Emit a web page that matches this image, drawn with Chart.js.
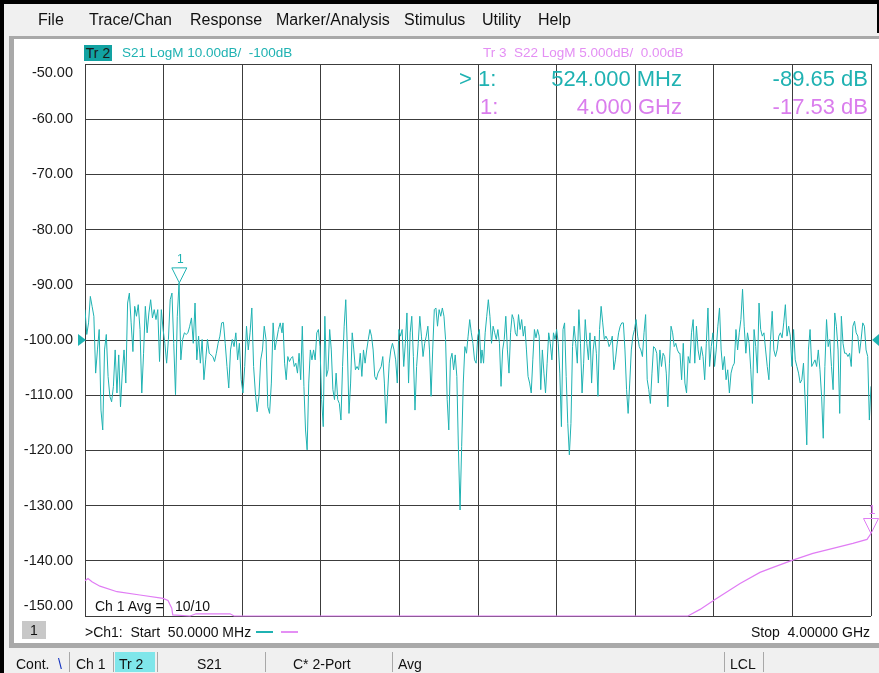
<!DOCTYPE html>
<html>
<head>
<meta charset="utf-8">
<title>S21 / S22 LogM</title>
<script src="https://cdn.jsdelivr.net/npm/chart.js@4.4.1/dist/chart.umd.min.js"></script>
<style>
  html, body { margin: 0; padding: 0; }
  body {
    width: 879px; height: 673px; position: relative; overflow: hidden;
    background: #000; font-family: "Liberation Sans", Arial, sans-serif; color: #111;
  }
  #menu { position: absolute; left: 4px; top: 4px; width: 873px; height: 29px; background: #f0f0f0; }
  #under { position: absolute; left: 4px; top: 33px; width: 875px; height: 640px; background: #f0f0f0; }
  #frame { position: absolute; left: 9px; top: 36px; width: 870px; height: 612px; background: #a9a9a9; }
  #panel { position: absolute; left: 14px; top: 39px; width: 865px; height: 604px; background: #fff; }
  #vnaChart { position: absolute; left: 0; top: 0; }
  .t { position: absolute; white-space: nowrap; line-height: 1; }
  .menu { font-size: 16px; top: 12px; }
  .hdr { font-size: 13.5px; top: 46px; }
  .big { font-size: 22px; }
  .cyan { color: #1fb2b2; }
  .mag { color: #da7ded; }
  .magl { color: #e48ff4; }
  .sb { font-size: 14px; top: 657px; }
  .sep { position: absolute; top: 652px; width: 1px; height: 20px; background: #a8a8a8; }
</style>
</head>
<body>
<div id="menu"></div>
<div id="under"></div>
<div id="frame"></div>
<div id="panel"></div>
<canvas id="vnaChart" width="879" height="673"></canvas>

<!-- menu -->
<div class="t menu" style="left:38px">File</div>
<div class="t menu" style="left:89px">Trace/Chan</div>
<div class="t menu" style="left:190px">Response</div>
<div class="t menu" style="left:276px">Marker/Analysis</div>
<div class="t menu" style="left:404px">Stimulus</div>
<div class="t menu" style="left:482px">Utility</div>
<div class="t menu" style="left:538px">Help</div>

<!-- trace headers -->
<div class="t" style="left:84px;top:45px;width:28px;height:16px;background:#12a2a2;font-size:14px;line-height:16px;text-align:center;color:#1a1a1a">Tr 2</div>
<div class="t hdr cyan" style="left:122px">S21 LogM 10.00dB/&nbsp; -100dB</div>
<div class="t hdr magl" style="left:483px">Tr 3&nbsp;&nbsp;S22 LogM 5.000dB/&nbsp; 0.00dB</div>

<!-- marker readouts -->
<div class="t big cyan" style="left:459px;top:68px">&gt;</div>
<div class="t big cyan" style="left:478px;top:68px">1:</div>
<div class="t big cyan" style="right:197px;top:68px">524.000 MHz</div>
<div class="t big cyan" style="right:11px;top:68px">-89.65 dB</div>
<div class="t big mag" style="left:480px;top:96px">1:</div>
<div class="t big mag" style="right:197px;top:96px">4.000 GHz</div>
<div class="t big mag" style="right:11px;top:96px">-17.53 dB</div>

<!-- bottom of plot -->
<div class="t" style="left:95px;top:599px;font-size:14px">Ch 1 Avg =</div>
<div class="t" style="left:175px;top:599px;font-size:14px">10/10</div>
<div class="t" style="left:22px;top:621px;width:24px;height:18px;background:#c8c8c8;font-size:14px;line-height:18px;text-align:center">1</div>
<div class="t" style="left:85px;top:625px;font-size:14px">&gt;Ch1:&nbsp; Start&nbsp; 50.0000 MHz</div>
<div class="t" style="left:256px;top:631px;width:17px;height:2px;background:#1fb2b2"></div>
<div class="t" style="left:281px;top:631px;width:17px;height:2px;background:#e48ff4"></div>
<div class="t" style="right:9px;top:625px;font-size:14px">Stop&nbsp; 4.00000 GHz</div>

<!-- status bar -->
<div class="t sb" style="left:16px">Cont.</div>
<div class="t sb" style="left:58px;color:#1030c0">\</div>
<div class="sep" style="left:69px"></div>
<div class="t sb" style="left:76px">Ch 1</div>
<div class="sep" style="left:113px"></div>
<div class="t" style="left:115px;top:652px;width:40px;height:20px;background:#7fe6ea"></div>
<div class="t sb" style="left:119px">Tr 2</div>
<div class="sep" style="left:157px"></div>
<div class="t sb" style="left:197px">S21</div>
<div class="sep" style="left:265px"></div>
<div class="t sb" style="left:293px">C* 2-Port</div>
<div class="sep" style="left:392px"></div>
<div class="t sb" style="left:398px">Avg</div>
<div class="sep" style="left:724px"></div>
<div class="t sb" style="left:730px">LCL</div>
<div class="sep" style="left:763px"></div>

<script>
// VNA screen: S21 (Tr 2) and S22 (Tr 3), Ch 1, 50 MHz .. 4 GHz

// ==========================================
// Data
// ==========================================
const startMHz = 50;
const stopMHz = 4000;
const xGridMHz = [50, 445, 840, 1235, 1630, 2025, 2420, 2815, 3210, 3605, 4000];
const yTicksDb = [-50, -60, -70, -80, -90, -100, -110, -120, -130, -140, -150];

// S21 in four stretches (MHz range of each)
const s21Bands = [[50, 1040], [1045, 2040], [2045, 3035], [3040, 4000]];
const s21Band1 = [-94.5, -99.0, -96.9, -92.1, -93.9, -95.7, -106.0, -101.8, -98.1, -112.7,
  -116.3, -101.8, -99.0, -106.6, -110.2, -111.2, -108.4, -101.8, -109.6, -102.7,
  -112.1, -106.0, -101.8, -107.8, -93.3, -91.5, -96.9, -102.1, -93.9, -95.7,
  -93.6, -98.1, -109.6, -102.4, -93.9, -98.7, -95.1, -92.7, -96.0, -94.5,
  -96.3, -94.5, -103.9, -94.5, -98.1, -100.6, -104.2, -99.9, -92.7, -91.5,
  -100.6, -109.9, -95.7, -89.65, -103.6, -99.9, -98.7, -99.0, -98.7, -97.5,
  -96.0, -100.6, -93.3, -103.6, -99.3, -104.2, -99.9, -107.2, -103.6, -99.9,
  -102.4, -102.7, -103.0, -103.9, -102.4, -100.6, -99.3, -96.9, -96.8, -100.6,
  -104.8, -108.7, -101.8, -99.9, -101.2, -98.7, -103.6, -100.6, -107.2, -109.6,
  -104.8, -97.5, -101.8, -98.7, -94.2, -104.8, -109.6, -113.0, -110.2, -103.6,
  -101.8, -97.5, -99.9, -112.1, -113.3, -107.8, -96.9, -101.8, -99.9, -98.1,
  -96.9, -98.7];
const s21Band2 = [-96.9, -104.2, -107.2, -103.0, -103.9, -103.3, -103.0, -104.8, -104.2, -106.0,
  -102.4, -107.2, -97.5, -108.4, -116.3, -119.9, -107.8, -101.8, -103.6, -101.8,
  -103.6, -98.7, -98.1, -101.2, -110.8, -115.7, -95.7, -106.6, -105.4, -98.1,
  -101.8, -109.0, -110.8, -106.0, -110.8, -111.5, -114.5, -104.8, -97.5, -92.7,
  -101.8, -113.3, -107.8, -98.7, -101.8, -105.4, -104.8, -105.4, -102.4, -106.6,
  -101.8, -104.2, -101.8, -99.9, -98.1, -99.3, -101.8, -106.6, -107.2, -106.0,
  -105.4, -104.8, -103.0, -107.8, -115.1, -109.6, -104.2, -101.8, -100.6, -101.8,
  -103.6, -107.8, -98.1, -99.3, -98.1, -104.8, -100.6, -95.1, -107.8, -98.7,
  -95.7, -103.0, -112.7, -104.8, -100.6, -95.7, -99.3, -103.0, -100.6, -99.3,
  -97.5, -101.8, -110.2, -101.8, -94.5, -94.2, -97.5, -94.5, -95.7, -94.2,
  -95.7, -99.9, -110.8, -116.3, -103.6, -102.4, -105.4, -102.7, -106.6, -119.9,
  -130.8, -119.3, -107.8, -101.2, -102.4, -99.3, -96.3, -98.7, -100.6, -103.6,
  -104.2, -99.3, -98.1, -104.2];
const s21Band3 = [-101.8, -104.2, -98.7, -95.7, -92.7, -95.7, -100.6, -97.5, -98.7, -99.9,
  -98.1, -100.6, -108.4, -101.8, -99.9, -95.7, -101.8, -106.0, -98.7, -95.4,
  -96.3, -98.7, -99.3, -95.4, -98.1, -96.3, -99.3, -97.5, -101.8, -106.6,
  -107.8, -109.6, -103.6, -98.1, -99.6, -98.1, -99.3, -109.0, -101.8, -106.0,
  -109.6, -104.2, -98.7, -100.6, -103.6, -98.7, -99.9, -98.1, -100.6, -106.0,
  -115.7, -98.1, -96.9, -106.6, -115.1, -120.8, -115.1, -101.2, -97.5, -100.6,
  -104.2, -94.5, -100.6, -109.6, -104.2, -96.3, -100.6, -103.6, -98.7, -107.8,
  -101.8, -99.3, -102.4, -110.2, -98.1, -93.9, -96.9, -99.9, -99.3, -99.9,
  -101.2, -100.6, -99.3, -105.4, -103.6, -100.9, -98.7, -97.5, -96.9, -96.9,
  -101.8, -109.0, -113.3, -107.8, -101.8, -99.3, -98.1, -96.3, -99.3, -101.2,
  -101.8, -103.0, -98.7, -95.4, -107.2, -109.0, -111.5, -106.0, -101.2, -101.5,
  -102.4, -107.8, -101.8, -104.8, -102.4, -103.0, -106.0, -112.1, -104.2, -97.5,
  -98.7, -101.2, -100.6, -101.8, -102.4];
const s21Band4 = [-102.4, -107.2, -100.6, -107.8, -109.6, -103.0, -104.2, -98.7, -96.3, -104.2,
  -97.5, -101.8, -103.6, -101.2, -103.0, -107.2, -100.6, -94.2, -104.8, -101.2,
  -98.7, -104.8, -101.8, -97.5, -94.2, -101.8, -105.4, -103.0, -107.2, -105.4,
  -109.6, -106.0, -104.8, -104.2, -98.1, -101.8, -98.7, -96.3, -90.8, -97.5,
  -102.4, -98.7, -100.6, -105.4, -111.5, -98.1, -101.2, -106.0, -93.3, -98.1,
  -99.3, -98.7, -101.8, -104.8, -107.2, -99.9, -94.8, -101.8, -103.0, -101.8,
  -99.3, -98.7, -99.6, -96.9, -93.6, -99.3, -97.5, -99.3, -104.8, -98.1,
  -103.6, -104.8, -106.0, -107.8, -107.2, -104.2, -110.8, -119.0, -101.8, -98.1,
  -104.8, -104.2, -103.6, -104.8, -101.8, -105.4, -110.2, -117.8, -104.8, -96.3,
  -101.2, -99.9, -104.8, -109.0, -95.1, -97.5, -101.8, -113.3, -95.7, -100.6,
  -102.4, -102.4, -103.0, -102.4, -104.8, -97.5, -96.6, -98.7, -99.3, -102.4,
  -99.9, -96.9, -97.5, -101.8, -103.0, -114.5, -108.4];

// S22 (5 dB/div, ref 0 dB at centre); -25 dB = bottom edge of screen
const s22Freq = [50, 65, 85, 125, 211, 326, 442, 467, 486, 491, 578, 608, 779, 799,
  3080, 3141, 3216, 3342, 3442, 3508, 3603, 3708, 3809, 3909, 3980, 4000];
const s22Db = [-21.8, -21.6, -21.9, -22.3, -22.8, -23.1, -23.4, -23.6, -24.3, -24.9, -25, -24.8, -24.8, -25,
  -25, -24.4, -23.5, -22.05, -21.05, -20.6, -19.96, -19.33, -18.87, -18.42, -18.06, -17.53];

// Markers
const marker21 = { f: 524, db: -89.65 };
const marker22 = { f: 4000, db: -17.53 };
const refLevelDb = -100;

// ==========================================
// Build points
// ==========================================
function bandPoints(vals, edge) {
    const step = (edge[1] - edge[0]) / (vals.length - 1);
    return vals.map((v, i) => ({ x: edge[0] + i * step, y: v }));
}

const s21Data = [].concat(
    bandPoints(s21Band1, s21Bands[0]),
    bandPoints(s21Band2, s21Bands[1]),
    bandPoints(s21Band3, s21Bands[2]),
    bandPoints(s21Band4, s21Bands[3])
);
const s22Data = s22Freq.map((f, i) => ({ x: f, y: s22Db[i] }));

const CYAN = '#1fb2b2';
const MAGENTA = '#e07cf4';
const GRID = '#3c3c3c';

// ==========================================
// Overlay: y labels, ref arrows, markers
// ==========================================
const vnaOverlay = {
    id: 'vnaOverlay',
    afterDatasetsDraw(chart) {
        const ctx = chart.ctx;
        const xs = chart.scales.x;
        const ys = chart.scales.y;
        const y2 = chart.scales.y2;
        ctx.save();

        // y tick labels (edge ones pulled inside like the analyser does)
        ctx.font = '14.5px "Liberation Sans", Arial, sans-serif';
        ctx.fillStyle = '#1a1a1a';
        ctx.textAlign = 'right';
        ctx.textBaseline = 'middle';
        yTicksDb.forEach(v => {
            let py = ys.getPixelForValue(v);
            py = Math.min(Math.max(py, ys.top + 9), ys.bottom - 10);
            ctx.fillText(v.toFixed(2), xs.left - 12, py);
        });

        // reference level arrows
        const ry = ys.getPixelForValue(refLevelDb);
        ctx.fillStyle = CYAN;
        ctx.beginPath();
        ctx.moveTo(xs.left - 7, ry - 6);
        ctx.lineTo(xs.left + 1, ry);
        ctx.lineTo(xs.left - 7, ry + 6);
        ctx.closePath();
        ctx.fill();
        ctx.beginPath();
        ctx.moveTo(xs.right + 8, ry - 6);
        ctx.lineTo(xs.right + 1, ry);
        ctx.lineTo(xs.right + 8, ry + 6);
        ctx.closePath();
        ctx.fill();

        // markers
        const drawMarker = (px, py, color) => {
            ctx.strokeStyle = color;
            ctx.lineWidth = 1;
            ctx.beginPath();
            ctx.moveTo(px - 7.5, py - 15);
            ctx.lineTo(px + 7.5, py - 15);
            ctx.lineTo(px, py);
            ctx.closePath();
            ctx.stroke();
            ctx.fillStyle = color;
            ctx.font = '12px "Liberation Sans", Arial, sans-serif';
            ctx.textAlign = 'center';
            ctx.fillText('1', px + 1, py - 23);
        };
        drawMarker(xs.getPixelForValue(marker21.f), ys.getPixelForValue(marker21.db), CYAN);
        drawMarker(xs.getPixelForValue(marker22.f), y2.getPixelForValue(marker22.db), MAGENTA);

        ctx.restore();
    }
};

// ==========================================
// Chart
// ==========================================
const ctx = document.getElementById('vnaChart').getContext('2d');

new Chart(ctx, {
    type: 'line',
    data: {
        datasets: [
            {
                label: 'S22',
                data: s22Data,
                yAxisID: 'y2',
                borderColor: MAGENTA,
                borderWidth: 1.2,
                pointRadius: 0,
                tension: 0,
                clip: 2
            },
            {
                label: 'S21',
                data: s21Data,
                yAxisID: 'y',
                borderColor: CYAN,
                borderWidth: 1,
                pointRadius: 0,
                tension: 0
            }
        ]
    },
    options: {
        responsive: false,
        animation: false,
        devicePixelRatio: 1,
        events: [],
        layout: {
            padding: { left: 85, right: 8, top: 64, bottom: 57 }
        },
        plugins: {
            legend: { display: false },
            tooltip: { enabled: false }
        },
        scales: {
            x: {
                type: 'linear',
                min: startMHz,
                max: stopMHz,
                afterBuildTicks: scale => {
                    scale.ticks = xGridMHz.map(v => ({ value: v }));
                },
                ticks: { display: false },
                grid: { color: GRID, lineWidth: 1, drawTicks: false },
                border: { display: false }
            },
            y: {
                type: 'linear',
                min: -150,
                max: -50,
                ticks: { display: false, stepSize: 10 },
                grid: { color: GRID, lineWidth: 1, drawTicks: false },
                border: { display: false }
            },
            y2: {
                type: 'linear',
                min: -25,
                max: 25,
                display: false
            }
        }
    },
    plugins: [vnaOverlay]
});
</script>
</body>
</html>
